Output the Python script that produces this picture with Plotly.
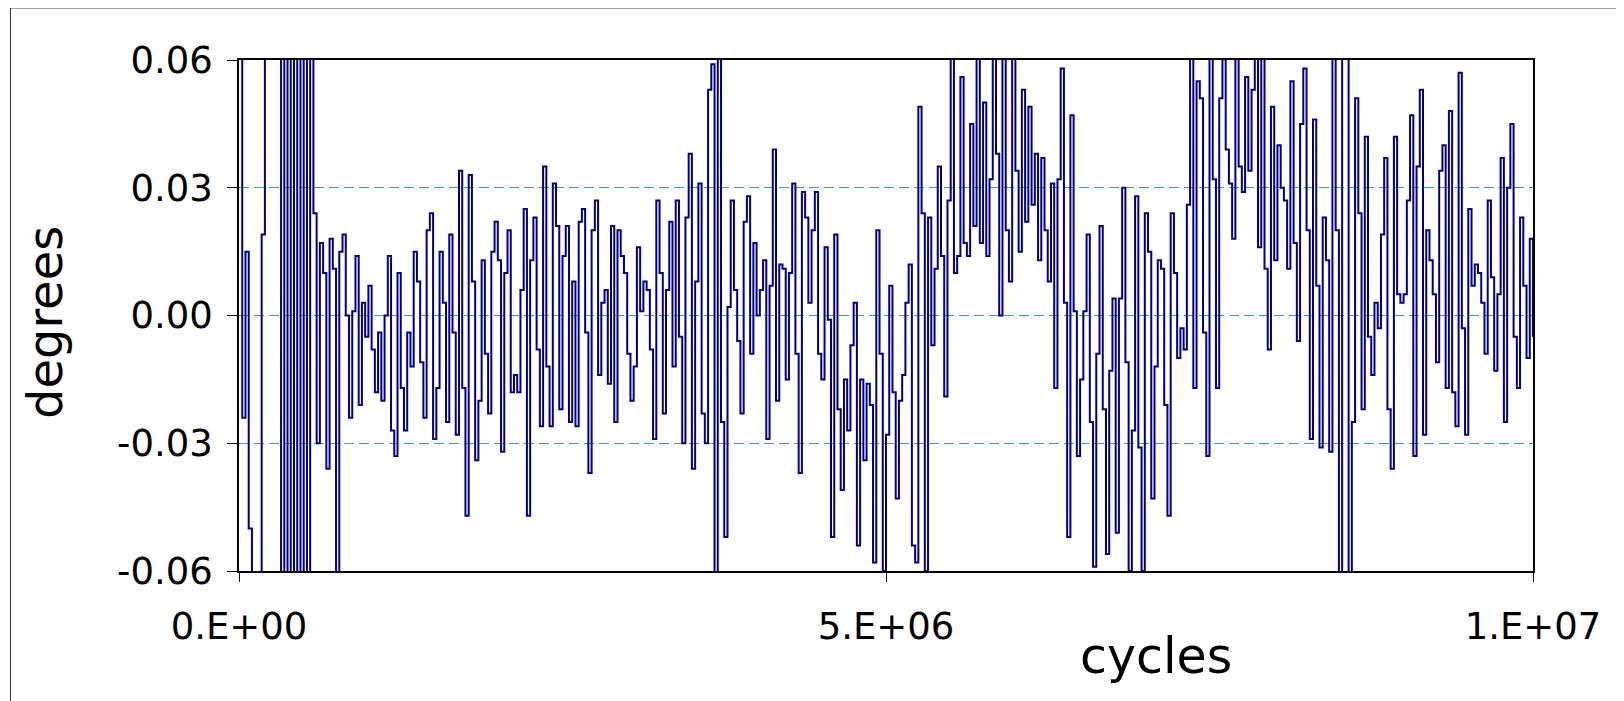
import plotly.graph_objects as go

# angle readings in milli-degrees, one every 25,000 cycles (0 .. 1e7)
seg_a = [80, -24, 15, -50, -75, -75, -65, 19, 90, 90, 90, 90, 90, -90, 90, -90, 90, -90, 90, -90,
         90, -90, 90, 24, -30, 17, 10, -36, 18, 11, -62, 15, 19, 0, -24, 1, 14, -21, 3, -5]
seg_b = [7, -8, -18, -4, -20, 0, 14, -27, -33, 10, -17, -27, -4, -12, 15, 8, -11, -24, 20, 24,
         -29, -17, 15, 3, -25, 19, -4, -28, 34, -17, -47, 33, 8, -34, -20, 13, -9, -23, 15, 22]
seg_c = [13, -32, 10, 20, -18, -14, -18, 6, 25, -47, 13, 23, -8, -26, 35, -12, -26, 31, 21, -22,
         14, 21, -25, 8, -26, 22, 25, -4, -37, 20, 27, -14, 3, 6, -16, 21, -25, 20, 14, 10]
seg_d = [-9, -20, -12, 16, 1, 8, 6, -8, -29, 27, 10, -23, 6, 22, -12, 27, -5, -30, 23, 38,
         -36, 8, 31, -23, -30, 53, 59, -75, 75, -25, -52, 2, 27, 6, -6, -23, 22, 28, -9, 17]
seg_e = [0, 6, 13, -29, 7, 39, -20, 12, 11, -15, 10, 31, -9, -37, 29, 23, 3, 20, 29, -9,
         -15, 16, -1, -52, 19, -22, -41, -15, -27, -7, 3, -54, -15, -34, -16, -21, -58, 20, -9, -60]
seg_f = [-28, 7, -18, -43, -20, -14, 3, 12, -54, -58, 49, 24, -60, 23, -7, 11, 35, 14, -19, 27,
         62, 10, 14, 56, 17, 14, 45, 21, 65, 17, 50, 14, 32, 65, 38, 0, 65, 20, 8, 65]
seg_g = [34, 15, 53, 22, 49, 26, 38, 13, 37, 20, 8, 31, -17, 32, 58, 3, -52, 47, 1, -33,
         -15, 1, 19, -25, -59, -9, 21, -22, -56, -13, 4, -51, 4, 30, -11, -60, -27, 28, -31, -60]
seg_h = [24, 15, -43, -12, 13, 11, -21, -47, 24, 10, -10, -3, -8, 26, 70, -17, 55, 51, -4, -33,
         70, 32, -17, 51, 70, 39, 31, 18, 65, 35, 29, 56, 34, 53, 65, 16, 65, 11, -8, 49]
seg_i = [13, 40, 30, 27, 11, 55, 17, -6, 45, 58, 20, -29, 46, 7, -31, 23, 13, -32, 70, 20,
         -70, 70, 70, -70, -25, 51, 24, -22, 42, -5, -14, 3, -3, 19, 37, -22, -36, 42, 5, 3]
seg_j = [5, 27, 47, -33, 35, 53, -28, 20, 13, 5, -11, 34, 40, -17, 48, -18, -26, 57, -3, -28,
         25, 7, 12, 10, 3, -9, 27, 9, -13, 5, 37, -25, 30, 45, -5, -17, 23, 7, -10, 18, -5]

degrees = [v / 1000 for v in seg_a + seg_b + seg_c + seg_d + seg_e + seg_f + seg_g + seg_h + seg_i + seg_j]
cycles = [25000 * i for i in range(len(degrees))]

y_ticks = [0.06, 0.03, 0.0, -0.03, -0.06]
y_labels = ["0.06", "0.03", "0.00", "-0.03", "-0.06"]
x_ticks = [0, 5e6, 1e7]
x_labels = ["0.E+00", "5.E+06", "1.E+07"]

font = "DejaVu Sans"

fig = go.Figure()
fig.add_trace(go.Scatter(
    x=cycles, y=degrees, mode="lines",
    line=dict(color="#000080", width=2, shape="hv"),
    showlegend=False,
))

# page has an 8px body margin, so the figure is drawn 8px smaller
fig.update_layout(
    width=1616, height=693,
    margin=dict(l=231, r=91, t=52, b=130),
    paper_bgcolor="white", plot_bgcolor="white",
    font=dict(family=font, color="black"),
    xaxis=dict(
        range=[0, 1e7], tickvals=x_ticks, ticktext=x_labels,
        showgrid=False, zeroline=False,
        showline=True, mirror=True, linecolor="black", linewidth=1.5,
        ticks="outside", ticklen=9, tickcolor="black",
        tickfont=dict(size=37, family=font), ticklabelstandoff=13,
    ),
    yaxis=dict(
        range=[-0.06, 0.06], tickvals=y_ticks, ticktext=y_labels,
        showgrid=True, gridcolor="#3f9f9f", gridwidth=1, griddash="10px,5px",
        zeroline=False,
        showline=True, mirror=True, linecolor="black", linewidth=1.5,
        ticks="outside", ticklen=10, tickcolor="black",
        tickfont=dict(size=37, family=font), ticklabelstandoff=7,
    ),
    annotations=[
        dict(text="degrees", x=-0.150, y=0.487, xref="paper", yref="paper",
             showarrow=False, textangle=-90, font=dict(size=48, family=font),
             xanchor="center", yanchor="middle"),
        dict(text="cycles", x=0.7087, y=-0.168, xref="paper", yref="paper",
             showarrow=False, font=dict(size=49, family=font),
             xanchor="center", yanchor="middle"),
    ],
    shapes=[
        dict(type="rect", xref="paper", yref="paper",
             x0=-0.1766, x1=1.2, y0=-0.4, y1=1.1018,
             line=dict(color="#333333", width=1), fillcolor="rgba(0,0,0,0)", layer="below"),
    ],
)

fig.write_html("out.html")
